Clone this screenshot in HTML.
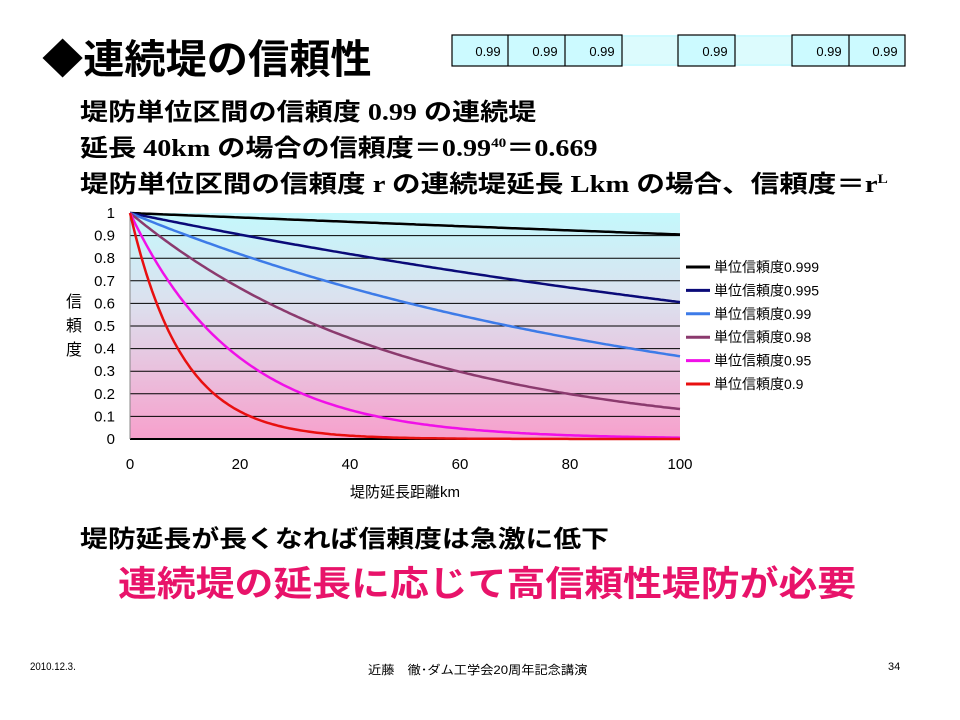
<!DOCTYPE html>
<html><head><meta charset="utf-8"><style>
body{margin:0;width:960px;height:720px;background:#fff;position:relative;overflow:hidden;font-family:"Liberation Sans","Noto Sans CJK JP",sans-serif}
.t{position:absolute;white-space:nowrap;transform-origin:0 0}
.b{font-family:"Liberation Serif","Noto Sans CJK JP",serif;font-weight:bold;font-size:24px;color:#000}
</style></head><body>
<div class="t" style="left:42px;top:34px;font-size:40px;font-weight:bold;line-height:52px;transform:scaleX(1.03)">◆連続堤の信頼性</div>
<svg class="t" style="left:0;top:0" width="960" height="720">
<rect x="452" y="35" width="453" height="31" fill="#ccfaff"/>
<rect x="622" y="37" width="56" height="27" fill="#dcfbfd"/>
<rect x="735" y="37" width="57" height="27" fill="#dcfbfd"/>
<g fill="none" stroke="#000" stroke-width="1.2">
<rect x="452" y="35" width="170" height="31"/><line x1="508" y1="35" x2="508" y2="66"/><line x1="565" y1="35" x2="565" y2="66"/>
<rect x="678" y="35" width="57" height="31"/>
<rect x="792" y="35" width="113" height="31"/><line x1="849" y1="35" x2="849" y2="66"/>
</g>
<g font-size="13" font-family="Liberation Sans,sans-serif" text-anchor="middle">
<text x="488" y="56">0.99</text><text x="545" y="56">0.99</text><text x="602" y="56">0.99</text><text x="715" y="56">0.99</text><text x="829" y="56">0.99</text><text x="885" y="56">0.99</text>
</g>
<defs><linearGradient id="g" x1="0" y1="0" x2="0" y2="1"><stop offset="0" stop-color="#c4f8fc"/><stop offset="0.4" stop-color="#dce0ee"/><stop offset="1" stop-color="#f7a0cc"/></linearGradient></defs>
<rect x="130" y="213" width="550" height="226" fill="url(#g)"/>
<g id="grid" stroke="#000" stroke-width="1"></g>
<line x1="130" y1="439" x2="680" y2="439" stroke="#000" stroke-width="2"/>
<line x1="130" y1="213" x2="130" y2="439" stroke="#888"/>
<g id="curves" fill="none" stroke-width="2.5"></g>
<g font-size="15" text-anchor="end" id="yl"></g>
<g font-size="15" text-anchor="middle">
<text x="130" y="469">0</text><text x="240" y="469">20</text><text x="350" y="469">40</text><text x="460" y="469">60</text><text x="570" y="469">80</text><text x="680" y="469">100</text>
<text x="405" y="497">堤防延長距離km</text>
</g>
<g font-size="16"><text x="66" y="307">信</text><text x="66" y="331">頼</text><text x="66" y="355">度</text></g>
<g id="leg" font-size="14"></g>
</svg>
<div class="t b" style="left:80px;top:92px;transform:scaleX(1.17)">堤防単位区間の信頼度 0.99 の連続堤</div>
<div class="t b" style="left:80px;top:128px;transform:scaleX(1.17)">延長 40km の場合の信頼度＝0.99<sup style="font-size:13px">40</sup>＝0.669</div>
<div class="t b" style="left:80px;top:164px;transform:scaleX(1.19)">堤防単位区間の信頼度 r の連続堤延長 Lkm の場合、信頼度＝r<sup style="font-size:13px">L</sup></div>
<div class="t" style="left:80px;top:519px;font-size:24px;font-weight:bold;transform:scaleX(1.16)">堤防延長が長くなれば信頼度は急激に低下</div>
<div class="t" style="left:118px;top:556px;font-size:35px;font-weight:bold;color:#e8136a;transform:scaleX(1.11)">連続堤の延長に応じて高信頼性堤防が必要</div>
<div class="t" style="left:30px;top:661px;font-size:11px;transform:scaleX(0.88)">2010.12.3.</div>
<div class="t" style="left:368px;top:661px;font-size:12px;transform:scaleX(1.1)">近藤　徹･ダム工学会20周年記念講演</div>
<div class="t" style="left:888px;top:661px;font-size:11px">34</div>
<script>
var ns="http://www.w3.org/2000/svg";
function el(p,t,a,txt){var e=document.createElementNS(ns,t);for(var k in a)e.setAttribute(k,a[k]);if(txt!==undefined)e.textContent=txt;p.appendChild(e);return e;}
var grid=document.getElementById('grid'),yl=document.getElementById('yl');
for(var i=0;i<=10;i++){var y=439-i*22.6;if(i>0&&i<10)el(grid,'line',{x1:130,x2:680,y1:y,y2:y});
el(yl,'text',{x:115,y:y+5},i==0?'0':i==10?'1':(i/10).toString());}
var s=[[0.999,'#000'],[0.995,'#0a0a78'],[0.99,'#3d7be8'],[0.98,'#8b3a6e'],[0.95,'#f010e8'],[0.9,'#e81010']];
var cv=document.getElementById('curves'),lg=document.getElementById('leg');
s.forEach(function(c,j){var p=[];for(var L=0;L<=100;L+=0.5){p.push((130+L*5.5).toFixed(1)+','+(439-Math.pow(c[0],L)*226).toFixed(1));}
el(cv,'polyline',{points:p.join(' '),stroke:c[1]});
var y=267+j*23.4;el(lg,'line',{x1:686,x2:710,y1:y,y2:y,stroke:c[1],'stroke-width':3});
el(lg,'text',{x:714,y:y+5},'単位信頼度'+c[0]);});
</script>
</body></html>
